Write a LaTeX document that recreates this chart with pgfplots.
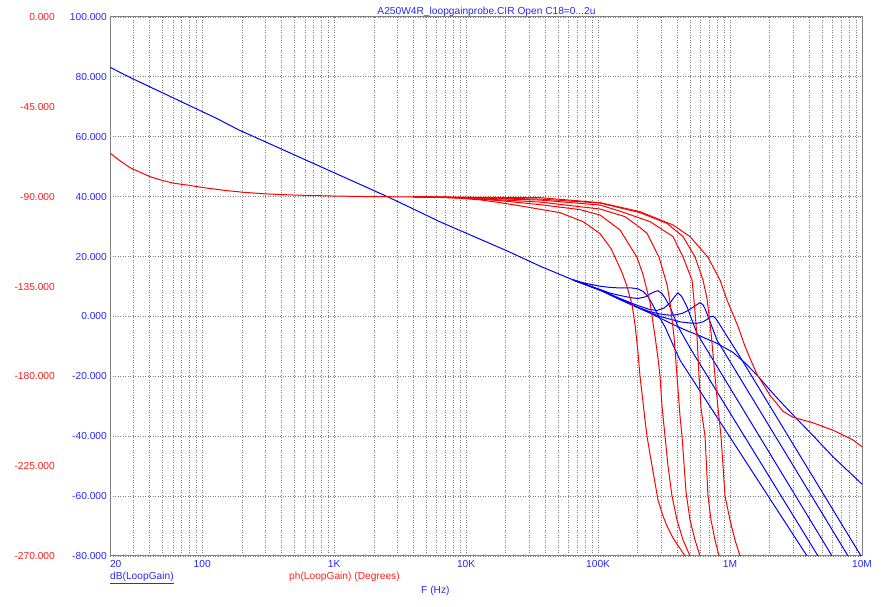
\documentclass[border=0pt]{standalone}
\usepackage{pgfplots}
\pgfplotsset{compat=1.18}
\usepackage{fontspec}
\setmainfont{Liberation Sans}
\definecolor{tblue}{RGB}{40,40,255}
\definecolor{tred}{RGB}{255,30,30}
\definecolor{cblue}{RGB}{0,0,255}
\definecolor{cred}{RGB}{255,0,0}
\definecolor{gridgray}{RGB}{128,128,128}
\newcommand{\lbl}{\fontsize{10.2}{12}\selectfont}
\tikzset{bl/.style={cblue, no marks, line width=1pt}, rd/.style={cred, no marks, line width=1pt}}
\begin{document}
\begin{tikzpicture}[x=1pt,y=1pt]
\path[use as bounding box] (0,0) rectangle (889,607);
\begin{axis}[
  at={(110pt,51pt)}, anchor=south west,
  width=752pt, height=539pt, scale only axis,
  xmode=log, xmin=20, xmax=1e7, ymin=-80, ymax=100,
  xtick={20,100,1000,10000,100000,1000000,10000000},
  xticklabels={\makebox[0pt][l]{20},100,1K,10K,100K,1M,10M},
  minor xtick={30,40,50,60,70,80,90,200,300,400,500,600,700,800,900,2000,3000,4000,5000,6000,7000,8000,9000,20000,30000,40000,50000,60000,70000,80000,90000,200000,300000,400000,500000,600000,700000,800000,900000,2000000,3000000,4000000,5000000,6000000,7000000,8000000,9000000},
  ytick={-80,-60,-40,-20,0,20,40,60,80,100},
  yticklabels={-80.000,-60.000,-40.000,-20.000,0.000,20.000,40.000,60.000,80.000,100.000},
  grid=both,
  major grid style={gridgray, dash pattern=on 1pt off 1.5pt, line width=0.8pt},
  minor grid style={gridgray, dash pattern=on 1pt off 1.5pt, line width=0.8pt},
  major tick length=0pt, minor tick length=0pt,
  axis line style={gridgray, line width=1pt},
  yticklabel style={font=\lbl, text=tblue, anchor=east, inner sep=0pt, xshift=-3pt},
  xticklabel style={font=\lbl, text=tblue, anchor=north, inner sep=0pt, yshift=-4pt},
]
% common + B0
\addplot[bl] coordinates {(20,83.2) (30,79.3) (129,66.1) (187,62.4) (2560,39.9) (3760,36.4) (6340,31.6) (20400,21.9) (36300,16.8) (64500,12.2)
 (103400,8.8) (146600,5.6) (207800,2.6) (247400,1.1) (350800,-2.2) (455800,-4.5) (592100,-6.5) (796500,-9.0) (1053000,-12.0) (1298000,-15.5) (1601000,-19.6) (2192000,-26.5) (3108000,-33.6) (4405000,-40.5) (6033000,-46.9) (10000000,-56)};
% B1
\addplot[bl] coordinates {(64500,12.2) (79600,11.1) (103400,10.1) (123100,9.7) (146600,9.5) (180700,9.5) (200600,9.2) (220000,8.3) (239000,6.6) (256200,4.3) (279600,1.1) (321500,-3.5) (369700,-9.5) (417700,-14.6) (3831000,-80) (4500000,-85)};
% B2
\addplot[bl] coordinates {(64500,12.2) (103400,9.0) (123100,7.8) (146600,7.0) (180700,6.2) (200600,6.0) (226800,6.5) (247400,7.5) (270000,8.3) (284600,8.6) (305100,7.6) (321500,6.2) (350800,3.2) (403400,-3.4) (497400,-10.5) (4643000,-80) (5500000,-85)};
% B3
\addplot[bl] coordinates {(64500,12.2) (103400,8.9) (146600,6.0) (180700,4.4) (207800,3.4) (247400,2.3) (279600,2.0) (315900,2.8) (350800,4.5) (382800,6.8) (403400,7.9) (432500,6.5) (472000,3.2) (561900,-5.7) (5928000,-80) (7000000,-85)};
% B4
\addplot[bl] coordinates {(64500,12.2) (103400,8.8) (146600,5.8) (207800,2.8) (247400,1.6) (294600,0.8) (350800,0.4) (382800,0.5) (432500,1.0) (472000,1.8) (533400,3.3) (592100,4.6) (624000,3.9) (646200,2.6) (680800,0.0) (796500,-7.9) (7838000,-80) (9000000,-84)};
% B5
\addplot[bl] coordinates {(64500,12.2) (103400,8.8) (146600,5.7) (207800,2.7) (247400,1.3) (294600,0.0) (350800,-0.9) (417700,-1.8) (497400,-2.2) (561900,-2.3) (624000,-1.8) (669100,-1.0) (705000,-0.2) (742900,0.1) (776000,-0.6) (810600,-1.8) (884600,-4.5) (1190000,-13.5) (9831000,-80) (10000000,-81)};
\end{axis}
\begin{axis}[
  at={(110pt,51pt)}, anchor=south west,
  width=752pt, height=539pt, scale only axis,
  xmode=log, xmin=20, xmax=1e7, ymin=-270, ymax=0,
  hide x axis,
  axis y line*=left, y axis line style={draw=none},
  ytick={-270,-225,-180,-135,-90,-45,0},
  yticklabels={-270.000,-225.000,-180.000,-135.000,-90.000,-45.000,0.000},
  major tick length=0pt,
  yticklabel style={font=\lbl, text=tred, anchor=east, inner sep=0pt, xshift=-55pt},
]
% R0
\addplot[rd] coordinates {(20,-68.2) (24,-72.2) (28.4,-75.5) (35,-78.2) (40.2,-80.0) (50,-81.9) (60,-83.2) (80.7,-84.4) (100,-85.4) (150,-86.9) (204,-87.8) (300,-88.6) (500,-89.2) (1000,-89.7) (2000,-90.0) (4000,-90.1)
 (6340,-90.2) (36300,-90.5) (103400,-93) (207800,-97.5) (369700,-104.2) (497400,-110) (680800,-120.4) (839500,-131.8) (948500,-141.8) (1149000,-155) (1298000,-165) (1417000,-171) (1601000,-179) (2009000,-189.5) (2520000,-197.5) (3001000,-200.5) (4255000,-203.3) (6033000,-207) (8551000,-211.9) (10000000,-215.3)};
% R1
\addplot[rd] coordinates {(4000,-90.1) (6340,-90.4) (8980,-90.8) (12700,-91.6) (18060,-93.0) (25600,-94.6) (36300,-96.3) (51400,-98.0) (76900,-102.5) (103400,-108.5) (125300,-116) (151800,-128) (165700,-135) (180700,-144) (190400,-154) (200600,-168) (207800,-180) (219000,-193) (226800,-202) (234800,-210) (247400,-219) (284600,-242) (310500,-250) (332900,-255) (369700,-261) (396400,-264) (455800,-270) (497400,-273)};
% R2
\addplot[rd] coordinates {(4000,-90.1) (6340,-90.3) (8980,-90.6) (18060,-92.0) (36300,-94.0) (72900,-96.5) (103400,-99.2) (146600,-106.7) (197200,-120.4) (219000,-129) (247400,-143) (270000,-160) (284600,-171) (294600,-180) (305100,-195) (321500,-210) (338800,-225) (363300,-240) (396400,-252) (440200,-262) (497400,-270) (533400,-274)};
% R3
\addplot[rd] coordinates {(4000,-90.1) (6340,-90.3) (8980,-90.5) (36300,-92.7) (103400,-96.2) (160000,-100) (207800,-105.5) (234800,-108.4) (289500,-120.3) (332900,-134) (350800,-143) (376200,-160) (396400,-180) (417700,-200) (432500,-210) (463800,-238) (497400,-252) (542800,-262) (592100,-270) (624000,-274)};
% R4
\addplot[rd] coordinates {(4000,-90.1) (6340,-90.2) (36300,-91.7) (103400,-94.2) (146600,-97.3) (247400,-102.5) (369700,-110) (440200,-120.2) (515000,-131.8) (533400,-142) (561900,-160) (582000,-180) (602600,-196) (646200,-210) (680800,-240) (717500,-252) (769300,-262) (824900,-270) (869300,-274)};
% R5
\addplot[rd] coordinates {(4000,-90.1) (6340,-90.2) (36300,-91.2) (103400,-93.2) (207800,-98) (332900,-103.4) (440200,-110) (542800,-120.2) (624000,-131.8) (669100,-141) (717500,-158) (769300,-180) (810600,-196) (854200,-210) (916100,-240) (999300,-252) (1090000,-262) (1190000,-270) (1254000,-274)};
\end{axis}
\node[anchor=base, text=tblue, font=\lbl, inner sep=0pt] at (486.5,592) {A250W4R\_loopgainprobe.CIR Open C18=0...2u};
\node[anchor=base west, text=tblue, font=\lbl, inner sep=0pt] at (110,27) {\underline{dB(LoopGain)}};
\node[anchor=base west, text=tred, font=\lbl, inner sep=0pt] at (289,27) {ph(LoopGain) (Degrees)};
\node[anchor=base west, text=tblue, font=\lbl, inner sep=0pt] at (421,13) {F (Hz)};
\end{tikzpicture}
\end{document}
